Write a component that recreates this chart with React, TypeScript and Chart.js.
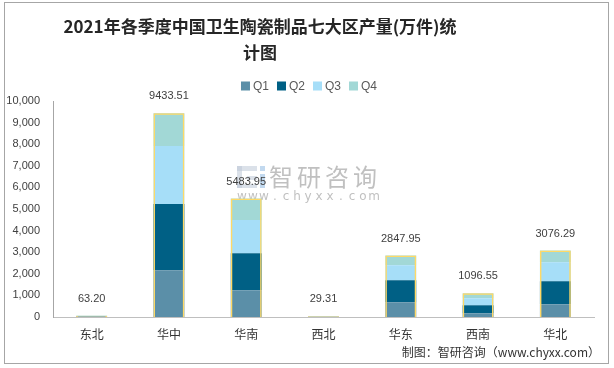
import React, { useEffect, useRef } from 'react';
import { Chart, registerables } from 'chart.js';

Chart.register(...registerables);

const categories = ['东北', '华中', '华南', '西北', '华东', '西南', '华北'];
const q1 = [16, 2166, 1238, 7, 682, 172, 589];
const q2 = [16, 3061, 1717, 8, 1020, 371, 1067];
const q3 = [16, 2691, 1530, 7, 696, 324, 881];
const q4 = [15.2, 1515.51, 998.95, 7.31, 449.95, 229.55, 539.29];
const totals = [63.2, 9433.51, 5483.95, 29.31, 2847.95, 1096.55, 3076.29];
const seriesNames = ['Q1', 'Q2', 'Q3', 'Q4'];
const titleLines = ['2021年各季度中国卫生陶瓷制品七大区产量(万件)统', '计图'];
const sourceText = '制图：智研咨询（www.chyxx.com）';

const colors = ['#5B8FA8', '#006085', '#A6DEF8', '#A2D8D6'];

export default function App() {
  const ref = useRef<HTMLCanvasElement>(null);

  useEffect(() => {
    const canvas = ref.current;
    if (!canvas) return;

    const decor = {
      id: 'decor',
      beforeDraw(chart: any) {
        const ctx = chart.ctx;
        ctx.save();
        ctx.fillStyle = '#ffffff';
        ctx.fillRect(0, 0, chart.width, chart.height);
        ctx.strokeStyle = '#a6a6a6';
        ctx.lineWidth = 1;
        ctx.strokeRect(4.5, 2.5, 604, 361);

        // watermark
        ctx.fillStyle = 'rgba(190,200,215,0.55)';
        ctx.fillRect(237, 166, 20, 5);
        ctx.fillRect(237, 166, 5, 22);
        ctx.fillRect(247, 176, 10, 4);
        ctx.fillRect(237, 184, 20, 4);
        ctx.fillStyle = 'rgba(120,170,220,0.45)';
        ctx.fillRect(260, 166, 5, 5);
        ctx.fillRect(260, 174, 5, 14);
        ctx.fillStyle = 'rgba(150,150,150,0.6)';
        ctx.font = '24px "Noto Sans CJK SC"';
        ctx.textAlign = 'left';
        ctx.textBaseline = 'middle';
        const wm = '智研咨询';
        for (let i = 0; i < wm.length; i++) ctx.fillText(wm[i], 269 + i * 28, 177);
        ctx.font = '12px "DejaVu Sans"';
        ctx.textAlign = 'center';
        const url = 'www.chyxx.com';
        for (let i = 0; i < url.length; i++) ctx.fillText(url[i], 242 + i * 11, 197);
        ctx.restore();
      },
      afterDatasetsDraw(chart: any) {
        const ctx = chart.ctx;
        ctx.save();
        ctx.font = '11px "Liberation Sans"';
        ctx.fillStyle = '#404040';
        ctx.textAlign = 'center';
        ctx.textBaseline = 'middle';
        const meta = chart.getDatasetMeta(0);
        meta.data.forEach((el: any, i: number) => {
          ctx.fillText(totals[i].toFixed(2), el.x, el.y - 17);
        });
        ctx.restore();
      },
      afterDraw(chart: any) {
        const ctx = chart.ctx;
        ctx.save();
        // title
        ctx.fillStyle = '#262626';
        ctx.font = 'bold 17px "Noto Sans CJK SC"';
        ctx.textAlign = 'center';
        ctx.textBaseline = 'middle';
        ctx.fillText(titleLines[0], 260, 27);
        ctx.fillText(titleLines[1], 260, 53);

        // legend
        ctx.font = '12px "Liberation Sans"';
        const box = 9;
        const gapIn = 3;
        const gapOut = 8;
        const widths = seriesNames.map((n) => box + gapIn + ctx.measureText(n).width);
        const total = widths.reduce((a, b) => a + b, 0) + gapOut * (seriesNames.length - 1);
        let x = 309 - total / 2;
        const y = 86;
        ctx.textAlign = 'left';
        seriesNames.forEach((n, i) => {
          ctx.fillStyle = colors[i];
          ctx.fillRect(x, y - box / 2, box, box);
          ctx.fillStyle = '#595959';
          ctx.fillText(n, x + box + gapIn, y + 1);
          x += widths[i] + gapOut;
        });

        // source
        ctx.font = '12px "Noto Sans CJK SC"';
        ctx.fillStyle = '#333333';
        ctx.textAlign = 'right';
        ctx.fillText(sourceText, 600, 352);
        ctx.restore();
      },
    };

    const common = { barPercentage: 0.4, categoryPercentage: 1 };
    const chart = new Chart(canvas, {
      type: 'bar',
      data: {
        labels: categories,
        datasets: [
          {
            label: '合计',
            data: totals,
            stack: 'total',
            grouped: false,
            backgroundColor: 'rgba(0,0,0,0)',
            borderColor: '#FFD966',
            borderWidth: 1.5,
            ...common,
          } as any,
          ...seriesNames.map((n, i) => ({
            label: n,
            data: [q1, q2, q3, q4][i],
            stack: 's',
            backgroundColor: colors[i],
            borderWidth: 0,
            ...common,
          })),
        ],
      },
      options: {
        responsive: false,
        animation: false,
        layout: { padding: { left: 0, right: 20, top: 101, bottom: 0 } },
        plugins: {
          legend: { display: false },
          title: { display: false },
          tooltip: { enabled: false },
        },
        scales: {
          x: {
            stacked: true,
            grid: { display: false, drawTicks: false },
            border: { display: true, color: '#bfbfbf', width: 1 },
            ticks: {
              color: '#333333',
              font: { family: '"Noto Sans CJK SC"', size: 12 },
              padding: 10,
            },
            afterFit: (scale: any) => {
              scale.height = 51;
            },
          },
          y: {
            stacked: true,
            min: 0,
            max: 10000,
            grid: { display: false, drawTicks: false },
            border: { display: true, color: '#a6a6a6', width: 1 },
            ticks: {
              stepSize: 1000,
              color: '#404040',
              padding: 13,
              font: { family: '"Liberation Sans"', size: 11 },
              callback: (v: any) => Number(v).toLocaleString('en-US'),
            },
            afterFit: (scale: any) => {
              scale.width = 53;
            },
          },
        },
      },
      plugins: [decor],
    });

    return () => chart.destroy();
  }, []);

  return (
    <div style={{ position: 'absolute', left: 0, top: 0, width: 614, height: 368 }}>
      <canvas ref={ref} width={614} height={368} style={{ display: 'block' }} />
    </div>
  );
}
